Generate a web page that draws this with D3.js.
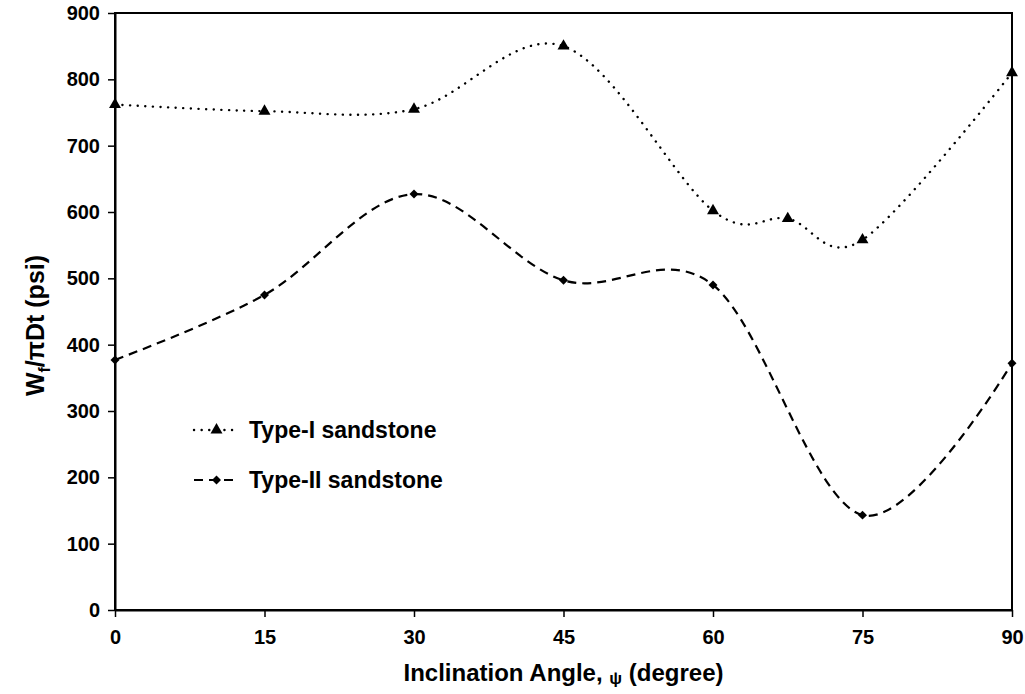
<!DOCTYPE html>
<html>
<head>
<meta charset="utf-8">
<script src="https://cdn.jsdelivr.net/npm/d3@7/dist/d3.min.js"></script>
<style>
  html, body { margin: 0; padding: 0; background: #fff; }
  svg { display: block; }
  text { font-family: "Liberation Sans", Arial, sans-serif; font-weight: bold; fill: #000; }
</style>
</head>
<body>
<svg id="chart" width="1025" height="694"></svg>
<script>
// Inclination angles (degrees) and normalised failure load W_f/(pi D t) in psi
const anglesTypeI  = [0, 15, 30, 45, 60, 67.5, 75, 90];
const valuesTypeI  = [762, 752, 755, 850, 602, 590, 558, 810];
const anglesTypeII = [0, 15, 30, 45, 60, 75, 90];
const valuesTypeII = [377, 475, 627, 497, 490, 143, 372];

const xTicks = [0, 15, 30, 45, 60, 75, 90];
const yTicks = [0, 100, 200, 300, 400, 500, 600, 700, 800, 900];

const seriesNames = ["Type-I sandstone", "Type-II sandstone"];

const svg = d3.select("#chart");
const plotL = 115, plotR = 1012, plotT = 13, plotB = 610;

const x = d3.scaleLinear().domain([0, 90]).range([plotL, plotR]);
const y = d3.scaleLinear().domain([0, 900]).range([plotB, plotT]);

// plot frame
svg.append("rect")
  .attr("x", plotL).attr("y", plotT)
  .attr("width", plotR - plotL).attr("height", plotB - plotT)
  .attr("fill", "none").attr("stroke", "#000").attr("stroke-width", 2);

// axes
const yAxis = svg.append("g")
  .attr("transform", `translate(${plotL},0)`)
  .call(d3.axisLeft(y).tickValues(yTicks).tickSizeInner(7).tickSizeOuter(0).tickPadding(8));
const xAxis = svg.append("g")
  .attr("transform", `translate(0,${plotB})`)
  .call(d3.axisBottom(x).tickValues(xTicks).tickSizeInner(7).tickSizeOuter(0).tickPadding(13));

[xAxis, yAxis].forEach(g => {
  g.select(".domain").attr("stroke", "#000").attr("stroke-width", 2);
  g.selectAll(".tick line").attr("stroke", "#000").attr("stroke-width", 1.5);
  g.selectAll(".tick text")
    .style("font-family", "'Liberation Sans', Arial, sans-serif")
    .style("font-weight", "bold")
    .style("font-size", "20px")
    .attr("fill", "#000");
});

// smoothed lines
const line = d3.line()
  .x(d => x(d[0]))
  .y(d => y(d[1]))
  .curve(d3.curveCatmullRom.alpha(0));

const ptsI  = anglesTypeI.map((a, i) => [a, valuesTypeI[i]]);
const ptsII = anglesTypeII.map((a, i) => [a, valuesTypeII[i]]);

const dotted = { "stroke-width": 2.4, "stroke-dasharray": "0.1,7.5", "stroke-linecap": "round" };
const dashed = { "stroke-width": 2.2, "stroke-dasharray": "9,6", "stroke-linecap": "butt" };

function styled(sel, st) {
  Object.entries(st).forEach(([k, v]) => sel.attr(k, v));
  return sel;
}

styled(svg.append("path").datum(ptsI).attr("d", line)
  .attr("fill", "none").attr("stroke", "#000"), dotted);
styled(svg.append("path").datum(ptsII).attr("d", line)
  .attr("fill", "none").attr("stroke", "#000"), dashed);

// markers: filled triangles and small square diamonds
const tri = d3.symbol().type(d3.symbolTriangle).size(62);
const dia = d3.symbol().type(d3.symbolSquare).size(40);

svg.append("g").selectAll("path").data(ptsI).join("path")
  .attr("d", tri)
  .attr("transform", d => `translate(${x(d[0])},${y(d[1])})`)
  .attr("fill", "#000");
svg.append("g").selectAll("path").data(ptsII).join("path")
  .attr("d", dia)
  .attr("transform", d => `translate(${x(d[0])},${y(d[1])}) rotate(45)`)
  .attr("fill", "#000");

// legend
const legend = svg.append("g");
const legendRows = [
  { name: seriesNames[0], st: dotted, sym: tri, rot: 0, ly: 430 },
  { name: seriesNames[1], st: dashed, sym: dia, rot: 45, ly: 480 }
];
legendRows.forEach(r => {
  styled(legend.append("line")
    .attr("x1", 194).attr("x2", 239).attr("y1", r.ly).attr("y2", r.ly)
    .attr("stroke", "#000"), r.st);
  legend.append("path").attr("d", r.sym)
    .attr("transform", `translate(216.5,${r.ly}) rotate(${r.rot})`).attr("fill", "#000");
  legend.append("text")
    .attr("x", 249).attr("y", r.ly).attr("dy", "0.36em")
    .style("font-size", "23px")
    .text(r.name);
});

// axis titles
const xt = svg.append("text")
  .attr("x", (plotL + plotR) / 2).attr("y", 681)
  .attr("text-anchor", "middle")
  .style("font-size", "24px");
xt.append("tspan").text("Inclination Angle, ");
xt.append("tspan").text("ψ").style("font-size", "17px").attr("dy", 3);
xt.append("tspan").text(" (degree)").attr("dy", -3);

const yt = svg.append("text")
  .attr("transform", `translate(44,${(plotT + plotB) / 2 + 14}) rotate(-90)`)
  .attr("text-anchor", "middle")
  .style("font-size", "25px");
yt.append("tspan").text("W");
yt.append("tspan").text("f").style("font-size", "16px").attr("dy", 6);
yt.append("tspan").text("/πDt (psi)").attr("dy", -6);
</script>
</body>
</html>
